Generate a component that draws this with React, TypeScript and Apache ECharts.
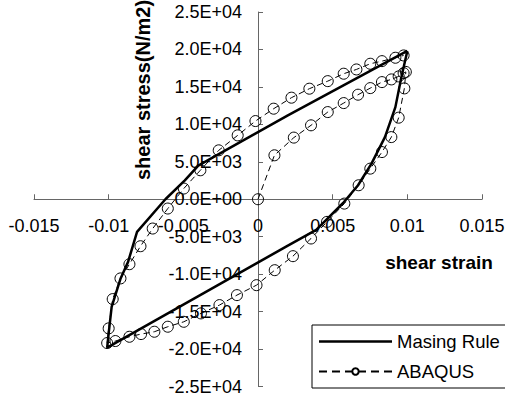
import React, { useEffect, useRef } from "react";
import * as echarts from "echarts";

const xTicks = [-0.015, 0.015, 0.005];
const yTicks = [-25000, 25000, 5000];

const masingStrain = [0.01, 0.002, -0.0006, -0.004, -0.0049, -0.0062, -0.0081, -0.0087, -0.0092, -0.0098, -0.01, -0.0101, 0.002, 0.0039, 0.0057, 0.0067, 0.0076, 0.0085, 0.0092, 0.0096, 0.01];
const masingStress = [19800, 11200, 8300, 4500, 2530, 0, -4360, -8360, -10570, -14360, -17900, -19800, -6200, -4100, -500, 1870, 4760, 8300, 12300, 16300, 19800];

const abaqusStrain = [0, 0.0011, 0.0024, 0.00355, 0.00467, 0.00574, 0.0067, 0.00752, 0.0083, 0.00893, 0.00942, 0.00975, 0.0099,
  0.0098, 0.00942, 0.00893, 0.0083, 0.00752, 0.00674, 0.00578, 0.00462, 0.00355, 0.00234, 0.00112, -0.0001, -0.00141, -0.00258, -0.00382, -0.00497, -0.00604, -0.00694, -0.00783, -0.00861, -0.00955, -0.0101,
  -0.01, -0.00973, -0.00921, -0.00861, -0.00787, -0.00705, -0.00604, -0.00497, -0.00386, -0.00263, -0.00136, -0.00017, 0.00105, 0.00224, 0.00344, 0.00467, 0.00574, 0.00659, 0.00752, 0.0083, 0.0092, 0.00975];
const abaqusStress = [0, 5870, 8230, 9870, 11640, 12840, 13960, 14840, 15640, 16000, 16400, 16840, 17000,
  14800, 10890, 8300, 6300, 4090, 1870, -580, -3020, -5240, -7600, -9470, -11470, -12800, -14130, -15240, -16360, -17020, -17690, -18000, -18360, -18930, -19200,
  -17240, -13330, -10570, -8670, -6270, -3910, -1240, 1430, 3870, 6530, 8530, 10440, 12090, 13560, 14760, 15770, 16760, 17330, 18090, 18440, 18890, 19200];

const FONT = "Liberation Sans, Arial, sans-serif";

function sci(v: number): string {
  if (v === 0) return "0.0E+00";
  const e = Math.floor(Math.log10(Math.abs(v)) + 1e-9);
  const m = v / Math.pow(10, e);
  return m.toFixed(1) + "E" + (e < 0 ? "-" : "+") + String(Math.abs(e)).padStart(2, "0");
}

const GRID_LEFT = 34;
const GRID_RIGHT = 23;
const GRID_TOP = 12;
const GRID_BOTTOM = 11.5;
const W = 505;
const H = 398;

export default function App() {
  const ref = useRef<HTMLDivElement>(null);
  useEffect(() => {
    if (!ref.current) return;
    const chart = echarts.init(ref.current, null, { renderer: "svg" });
    const axisColor = "#666";
    const gridW = W - GRID_LEFT - GRID_RIGHT;
    const gridH = H - GRID_TOP - GRID_BOTTOM;
    // offsets that move the axes onto the zero lines
    const yAxisOffset = -gridW * ((0 - xTicks[0]) / (xTicks[1] - xTicks[0]));
    const xAxisOffset = -gridH * ((0 - yTicks[0]) / (yTicks[1] - yTicks[0]));
    chart.setOption({
      animation: false,
      backgroundColor: "#fff",
      grid: {
        left: GRID_LEFT,
        right: GRID_RIGHT,
        top: GRID_TOP,
        bottom: GRID_BOTTOM,
        containLabel: false,
        outerBoundsMode: "none",
      },
      xAxis: {
        type: "value",
        min: xTicks[0],
        max: xTicks[1],
        interval: xTicks[2],
        offset: xAxisOffset,
        axisLine: { onZero: false, lineStyle: { color: axisColor, width: 1 } },
        axisTick: { show: true, inside: true, length: 5, lineStyle: { color: axisColor } },
        splitLine: { show: false },
        axisLabel: {
          margin: 18,
          fontSize: 18,
          fontFamily: FONT,
          color: "#000",
          hideOverlap: false,
          formatter: (v: number) => String(parseFloat(v.toFixed(4))),
        },
      },
      yAxis: {
        type: "value",
        min: yTicks[0],
        max: yTicks[1],
        interval: yTicks[2],
        offset: yAxisOffset,
        axisLine: { onZero: false, lineStyle: { color: axisColor, width: 1 } },
        axisTick: { show: true, inside: true, length: 5, lineStyle: { color: axisColor } },
        splitLine: { show: false },
        axisLabel: {
          margin: 16,
          fontSize: 18,
          fontFamily: FONT,
          color: "#000",
          hideOverlap: false,
          formatter: (v: number) => sci(v),
        },
      },
      legend: {
        orient: "vertical",
        left: 312,
        top: 325,
        itemWidth: 73,
        itemHeight: 8,
        itemGap: 11,
        padding: [7, 20, 7, 6],
        borderColor: "#000",
        borderWidth: 1,
        backgroundColor: "#fff",
        textStyle: { fontSize: 18.5, fontFamily: FONT, color: "#000" },
        lineStyle: { type: [8, 5] },
        data: [
          { name: "Masing Rule", icon: "path://M0,0H73V2.5H0Z", itemStyle: { color: "#000" } },
          { name: "ABAQUS" },
        ],
      },
      graphic: [
        {
          type: "text",
          x: 143,
          y: 90,
          rotation: Math.PI / 2,
          style: {
            text: "shear stress(N/m2)",
            font: "bold 20px " + FONT,
            fill: "#000",
            align: "center",
            verticalAlign: "middle",
          },
        },
        {
          type: "text",
          x: 439,
          y: 262,
          style: {
            text: "shear strain",
            font: "bold 19px " + FONT,
            fill: "#000",
            align: "center",
            verticalAlign: "middle",
          },
        },
      ],
      series: [
        {
          name: "Masing Rule",
          type: "line",
          data: masingStrain.map((x, i) => [x, masingStress[i]]),
          showSymbol: false,
          symbol: "none",
          lineStyle: { color: "#000", width: 2.5, type: "solid" },
          itemStyle: { color: "#000" },
          z: 2,
        },
        {
          name: "ABAQUS",
          type: "line",
          data: abaqusStrain.map((x, i) => [x, abaqusStress[i]]),
          symbol: "circle",
          symbolSize: 11,
          showAllSymbol: true,
          lineStyle: { color: "#000", width: 1, type: [6, 4] },
          itemStyle: { color: "rgba(0,0,0,0)", borderColor: "#000", borderWidth: 1 },
          z: 3,
        },
      ],
    });
    return () => chart.dispose();
  }, []);
  return (
    <div
      ref={ref}
      style={{ position: "absolute", left: 0, top: 0, width: W, height: H }}
    />
  );
}
